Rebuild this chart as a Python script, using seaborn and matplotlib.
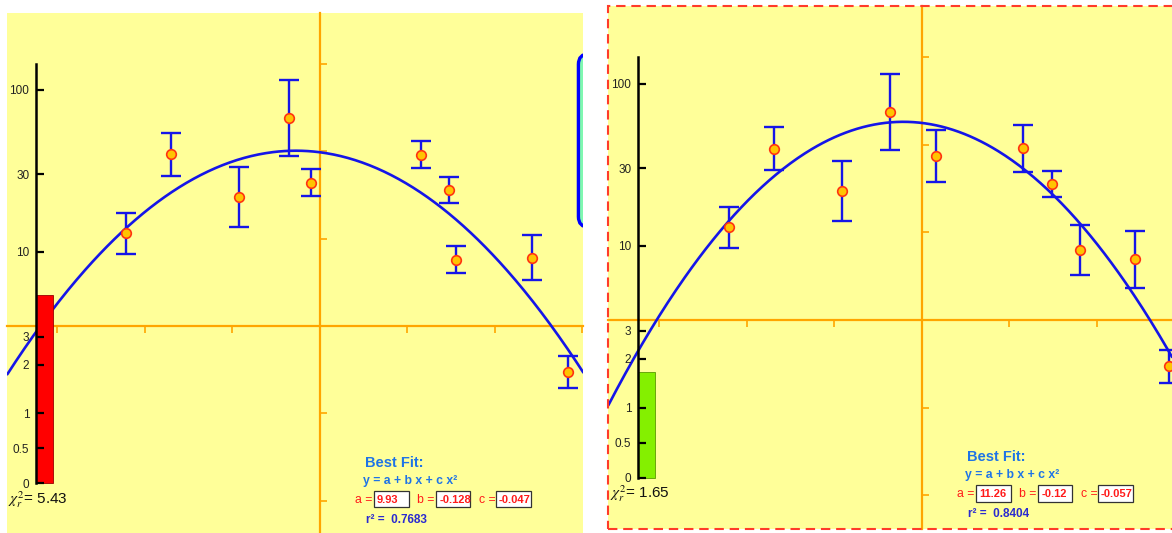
import numpy as np
import pandas as pd
import matplotlib
matplotlib.use("Agg")
import matplotlib.pyplot as plt
from matplotlib.patches import Rectangle, FancyBboxPatch
from matplotlib.ticker import MultipleLocator
import seaborn as sns

sns.set_style("white")
plt.rcParams['font.family'] = ['Liberation Sans', 'DejaVu Sans']
plt.rcParams['mathtext.fontset'] = 'stix'

# ---------------- data ----------------
# left panel (x, log-scaled y in fit units, error half-length)
x_left = [-11.07, -8.50, -4.59, -1.77, -0.50, 5.76, 7.38, 7.78, 12.13, 14.18]
y_left = [5.30, 9.81, 7.38, 11.89, 8.20, 9.80, 7.76, 3.80, 3.90, -2.63]
err_left = [1.16, 1.24, 1.71, 2.19, 0.75, 0.75, 0.73, 0.75, 1.29, 0.90]
fit_left = {"a": 9.93, "b": -0.128, "c": -0.047}
r2_left = 0.7683
chi_left = 5.43

# right panel
x_right = [-11.04, -8.47, -4.57, -1.79, 0.82, 5.81, 7.46, 9.05, 12.16, 14.13]
y_right = [5.29, 9.79, 7.38, 11.89, 9.36, 9.81, 7.76, 4.00, 3.46, -2.65]
err_right = [1.18, 1.22, 1.72, 2.19, 1.49, 1.33, 0.75, 1.45, 1.61, 0.93]
fit_right = {"a": 11.26, "b": -0.12, "c": -0.057}
r2_right = 0.8404
chi_right = 1.65

log_ticks = [100, 30, 10]
log_tick_labels = ["100", "30", "10"]
chi_ticks = [3, 2, 1, 0.5, 0]
chi_tick_labels = ["3", "2", "1", "0.5", "0"]

# ---------------- colours ----------------
YELLOW = "#ffff99"
ORANGE = "#ffa500"
BLUE = "#1515e8"
PT_FILL = "#ffc400"
PT_EDGE = "#ff3311"
RED = "#ff1a1a"
FITBLUE = "#1f74e6"
R2BLUE = "#2a2ad0"

AXIS_X = -16.2      # position of the black value axis
CHI_ZERO = -9.0
CHI_UNIT = 4.0


def log_pos(v):
    return 9.24 * np.log10(v) - 4.99


def chi_pos(v):
    f = v if v <= 1 else 1 + np.log(v)
    return CHI_ZERO + CHI_UNIT * f


W, H = 1172, 533
fig = plt.figure(figsize=(W / 100, H / 100), dpi=100)
fig.patch.set_facecolor("white")


def draw_panel(rect, xlim, ylim, X, Y, E, fit, r2, chi, chi_color, chi_edge,
               dashed=False, widget=False):
    ax = fig.add_axes(rect)
    ax.set_facecolor(YELLOW)
    ax.set_xlim(*xlim)
    ax.set_ylim(*ylim)

    # orange zero axes with ticks
    for s in ("top", "right"):
        ax.spines[s].set_visible(False)
    for s in ("left", "bottom"):
        ax.spines[s].set_position(("data", 0))
        ax.spines[s].set_color(ORANGE)
        ax.spines[s].set_linewidth(1.6)
        ax.spines[s].set_zorder(1.5)
    ax.xaxis.set_major_locator(MultipleLocator(5))
    ax.yaxis.set_major_locator(MultipleLocator(5))
    ax.tick_params(axis="x", direction="out", length=5, width=1.2,
                   color=ORANGE, labelbottom=False, bottom=True)
    ax.tick_params(axis="y", direction="in", length=5, width=1.2,
                   color=ORANGE, labelleft=False, left=True)

    # fit curve
    xs = np.linspace(xlim[0], xlim[1], 400)
    ys = fit["a"] + fit["b"] * xs + fit["c"] * xs ** 2
    sns.lineplot(x=xs, y=ys, ax=ax, color=BLUE, linewidth=1.9,
                 sort=False, zorder=2)

    # error bars and points
    ax.errorbar(X, Y, yerr=E, fmt="none", ecolor=BLUE, elinewidth=1.7,
                capsize=7, capthick=1.7, zorder=3)
    df = pd.DataFrame({"x": X, "y": Y})
    sns.scatterplot(data=df, x="x", y="y", ax=ax, s=48, color=PT_FILL,
                    edgecolor=PT_EDGE, linewidth=1.2, zorder=4, legend=False)
    ax.set_xlabel("")
    ax.set_ylabel("")

    # chi-square bar
    ax.bar([AXIS_X], [chi_pos(chi) - CHI_ZERO], bottom=CHI_ZERO, width=0.97,
           align="edge", color=chi_color, edgecolor=chi_edge, linewidth=0.6,
           zorder=5)

    # black value axis
    sec = ax.secondary_yaxis(AXIS_X, functions=(lambda v: v, lambda v: v),
                             transform=ax.transData)
    pos = [log_pos(v) for v in log_ticks] + [chi_pos(v) for v in chi_ticks]
    sec.set_yticks(pos, labels=log_tick_labels + chi_tick_labels)
    sec.tick_params(axis="y", direction="in", length=5.5, width=1.6,
                    color="black", labelsize=8.5, labelcolor="#222222", pad=5)
    sec.spines["left"].set_bounds(CHI_ZERO, 15)
    sec.spines["left"].set_linewidth(1.8)
    sec.spines["left"].set_color("black")
    sec.set_zorder(6)

    ax.text(-17.8, -10.18, r"$\chi^2_r$" + "= %.2f" % chi, fontsize=11,
            color="#111111", ha="left", va="baseline", zorder=7)

    # best-fit block
    ax.text(2.6, -8.07, "Best Fit:", fontsize=10.5, fontweight="bold",
            color=FITBLUE, ha="left", va="baseline", zorder=7)
    ax.text(2.5, -9.05, "y = a + b x + c x²", fontsize=8.8, fontweight="bold",
            color=FITBLUE, ha="left", va="baseline", zorder=7)
    labels_x = [2.02, 5.58, 9.08]
    boxes_x = [(3.10, 5.12), (6.66, 8.60), (10.08, 12.06)]
    for name, lx, (b0, b1) in zip(["a", "b", "c"], labels_x, boxes_x):
        ax.text(lx, -10.14, name + " =", fontsize=8.8, color=RED,
                ha="left", va="baseline", zorder=7)
        ax.add_patch(Rectangle((b0 + 0.05, -10.42), b1 - b0, 0.92,
                               facecolor="#bbbbbb", edgecolor="none",
                               zorder=6.5))
        ax.add_patch(Rectangle((b0, -10.37), b1 - b0, 0.92,
                               facecolor="white", edgecolor="#333333",
                               linewidth=0.9, zorder=7))
        ax.text(b0 + 0.17, -10.14, str(fit[name]), fontsize=8,
                fontweight="bold", color=RED, ha="left", va="baseline",
                zorder=8)
    ax.text(2.65, -11.25, "r² =  %.4f" % r2, fontsize=8.5, fontweight="bold",
            color=R2BLUE, ha="left", va="baseline", zorder=7)

    if widget:
        ax.add_patch(FancyBboxPatch((14.78, 5.65), 6.0, 9.9,
                                    boxstyle="round,pad=0,rounding_size=0.6",
                                    facecolor="#7ff8b0", edgecolor="#0000ff",
                                    linewidth=2.4, zorder=7))
    if dashed:
        ax.add_patch(Rectangle((0, 0), 1.05, 1, transform=ax.transAxes,
                               fill=False, edgecolor="#ff3b2a", linewidth=1.5,
                               linestyle=(0, (4.5, 2.8)), clip_on=False,
                               zorder=10))
    return ax


draw_panel([7.3 / W, 0.0, 576 / W, (H - 13.3) / H],
           (-17.85, 15.06), (-11.83, 17.87),
           x_left, y_left, err_left, fit_left, r2_left, chi_left,
           "#ff0000", "#990000", dashed=False, widget=True)

draw_panel([608.3 / W, 4 / H, 563.7 / W, 523 / H],
           (-17.91, 14.30), (-11.94, 17.94),
           x_right, y_right, err_right, fit_right, r2_right, chi_right,
           "#84f000", "#5a9a00", dashed=True, widget=False)

fig.savefig("out.png", dpi=100, facecolor="white")
